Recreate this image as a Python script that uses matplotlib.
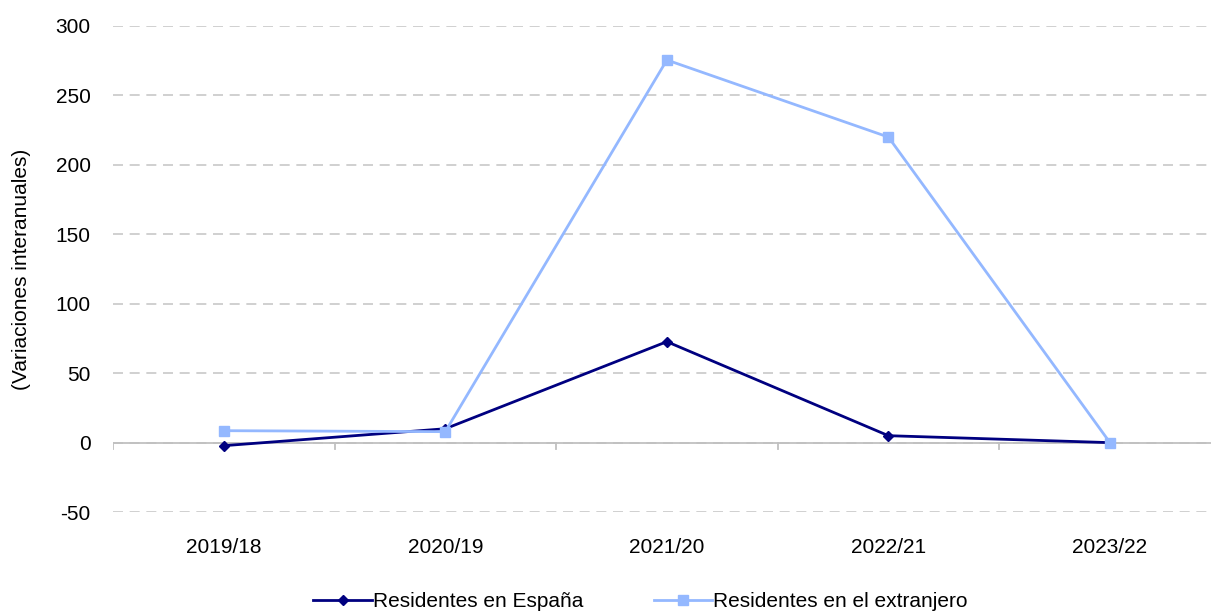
import matplotlib
matplotlib.use("Agg")
import matplotlib.pyplot as plt

# Datos (variaciones interanuales)
periodos = ["2019/18", "2020/19", "2021/20", "2022/21", "2023/22"]
residentes_espana = [-2.2, 10.0, 72.7, 5.0, 0.0]
residentes_extranjero = [8.6, 7.9, 275.5, 220.0, 0.0]

plt.rcParams['font.family'] = ['Liberation Sans', 'DejaVu Sans']
plt.rcParams['axes.unicode_minus'] = False

fig = plt.figure(figsize=(12.11, 6.14), dpi=100)
ax = fig.add_axes([0.0933, 0.166, 0.9067, 0.7917])

x = list(range(len(periodos)))
ax.plot(x, residentes_espana, color="#000080", lw=2, marker="D", ms=5.5,
        label="Residentes en España", zorder=3)
ax.plot(x, residentes_extranjero, color="#94b8ff", lw=2, marker="s", ms=7,
        label="Residentes en el extranjero", zorder=3)

ax.set_ylim(-50, 300)
ax.set_xlim(-0.5, 4.456)
ax.set_yticks(range(-50, 301, 50))
ax.grid(axis="y", color="#c8c8c8", ls=(0, (6, 4)), lw=1.2)
ax.set_axisbelow(True)
ax.axhline(0, color="#c0c0c0", lw=1.3, zorder=1)

for s in ax.spines.values():
    s.set_visible(False)

# ticks de categoria en los limites, sobre la linea de cero
for b in [-0.5, 0.5, 1.5, 2.5, 3.5]:
    ax.plot([b, b], [0, -4.5], color="#c0c0c0", lw=1.3, zorder=1)

ax.set_xticks(x)
ax.set_xticklabels(periodos)
ax.tick_params(axis="both", length=0, labelsize=15, colors="black")
ax.tick_params(axis="x", pad=19)
ax.tick_params(axis="y", pad=16)
ax.set_ylabel("(Variaciones interanuales)", fontsize=15, labelpad=18)

fig.legend(loc="lower center", bbox_to_anchor=(0.529, -0.026), ncol=2, frameon=False,
           fontsize=15, columnspacing=3.4, handlelength=2.8, handletextpad=0.05)

fig.savefig("out.png", dpi=100)
